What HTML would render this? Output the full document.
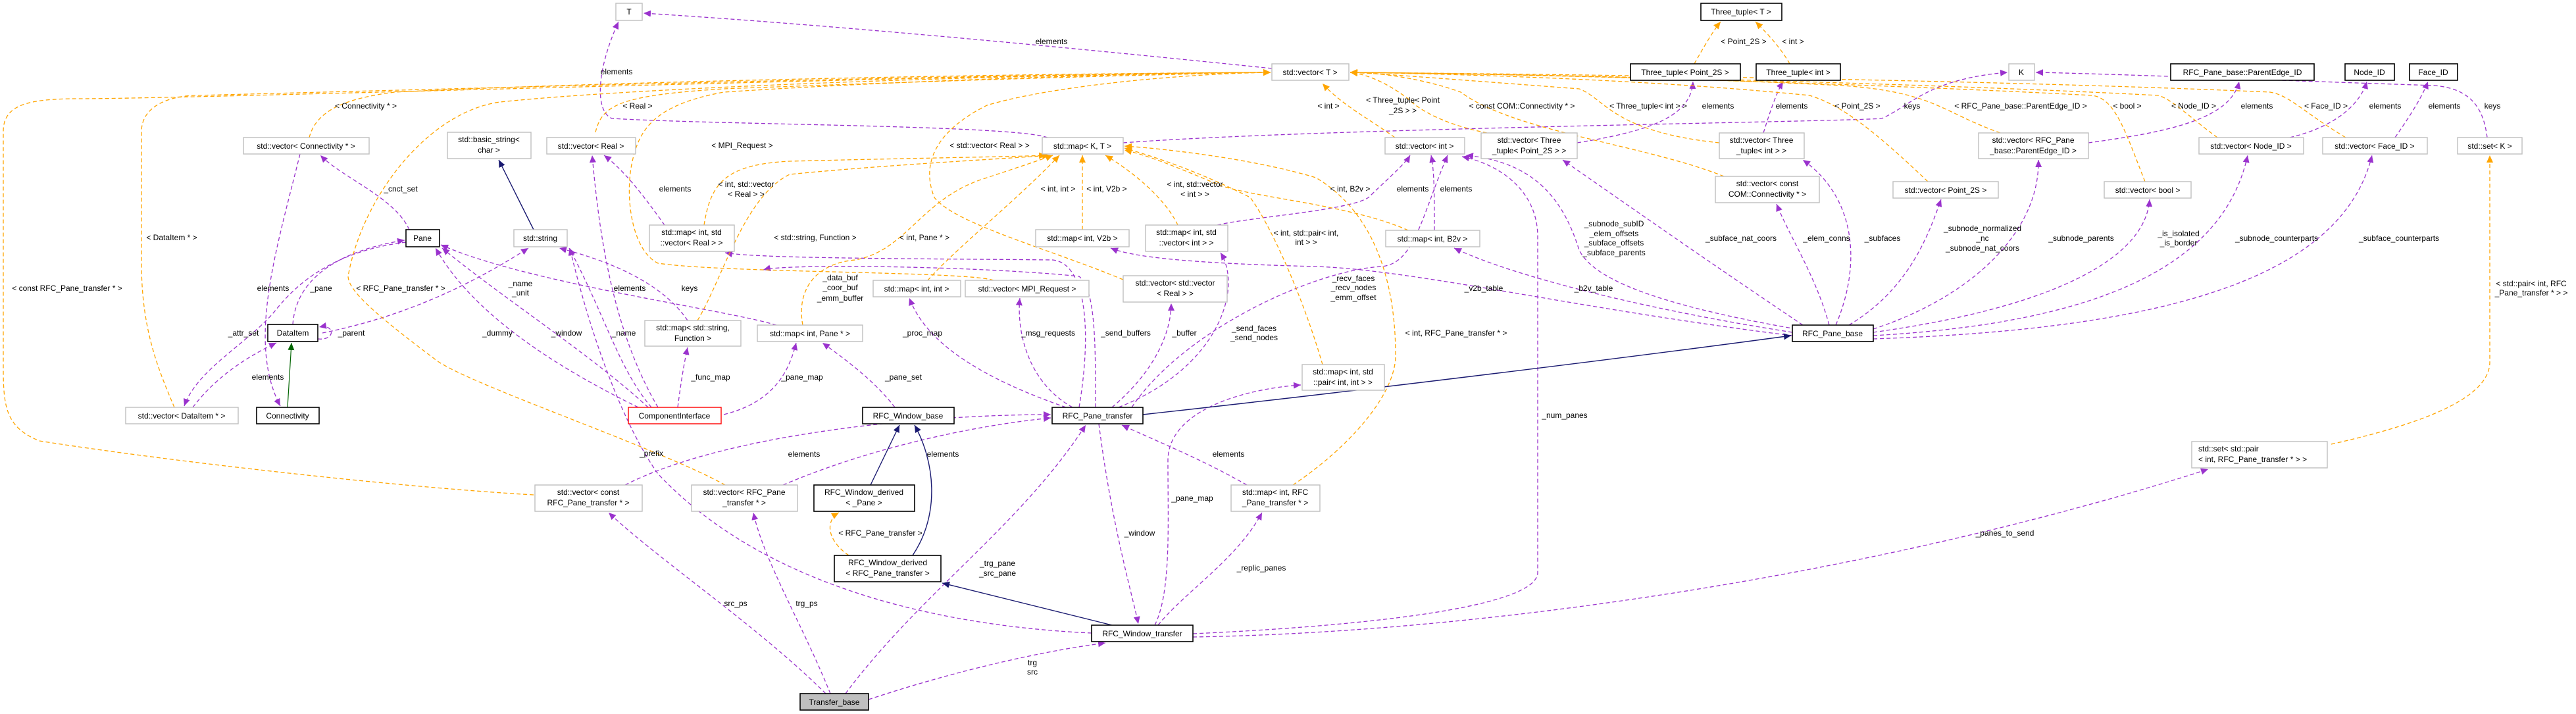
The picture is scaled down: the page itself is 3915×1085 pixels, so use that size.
<!DOCTYPE html>
<html><head><meta charset="utf-8">
<style>
html,body{margin:0;padding:0;background:#fff;}
svg{display:block;}
text{font-family:"Liberation Sans",sans-serif;font-size:12px;fill:#000;}
.p{fill:none;stroke:#9a32cd;stroke-width:1.3;stroke-dasharray:6,4;marker-end:url(#ap);}
.o{fill:none;stroke:#ffa500;stroke-width:1.3;stroke-dasharray:6,4;marker-end:url(#ao);}
.n{fill:none;stroke:#191970;stroke-width:1.4;marker-end:url(#an);}
.g{fill:none;stroke:#006400;stroke-width:1.2;marker-end:url(#ag);}
.bg{fill:#fff;stroke:#bfbfbf;stroke-width:1.4;}
.bk{fill:#fff;stroke:#000;stroke-width:1.6;}
.rd{fill:#fff;stroke:#ff0000;stroke-width:1.4;}
.tb{fill:#bfbfbf;stroke:#000;stroke-width:1.6;}
</style></head><body>
<svg width="3915" height="1085" viewBox="0 0 3915 1085" xmlns="http://www.w3.org/2000/svg">
<defs>
<marker id="ap" markerUnits="userSpaceOnUse" markerWidth="12" markerHeight="10" refX="11" refY="5" orient="auto"><path d="M0,0 L11,5 L0,10 z" fill="#9a32cd"/></marker>
<marker id="ao" markerUnits="userSpaceOnUse" markerWidth="12" markerHeight="10" refX="11" refY="5" orient="auto"><path d="M0,0 L11,5 L0,10 z" fill="#ffa500"/></marker>
<marker id="an" markerUnits="userSpaceOnUse" markerWidth="12" markerHeight="10" refX="11" refY="5" orient="auto"><path d="M0,0 L11,5 L0,10 z" fill="#191970"/></marker>
<marker id="ag" markerUnits="userSpaceOnUse" markerWidth="12" markerHeight="10" refX="11" refY="5" orient="auto"><path d="M0,0 L11,5 L0,10 z" fill="#006400"/></marker>
</defs>

<!-- purple edges -->
<path class="p" d="M1933,104 C1700,80 1300,40 978,20"/>
<path class="p" d="M1592,209 C1540,190 1100,190 930,180 C905,170 905,110 940,33"/>
<path class="p" d="M1707,217 C2000,195 2800,185 2860,180 C2905,160 2930,120 3051,110"/>
<path class="p" d="M3780,209 C3775,170 3760,135 3700,130 C3400,120 3200,112 3094,110"/>
<path class="p" d="M622,349 C600,300 520,270 487,236"/>
<path class="p" d="M456,234 C420,380 375,520 426,617"/>
<path class="p" d="M445,493 C450,420 520,380 615,365"/>
<path class="p" d="M617,368 C520,380 460,420 420,470 C380,520 300,560 280,617"/>
<path class="p" d="M293,619 C330,570 380,540 420,521"/>
<path class="p" d="M483,515 C510,518 510,492 485,497"/>
<path class="p" d="M490,506 C620,480 720,430 803,377"/>
<path class="p" d="M970,619 C850,560 720,480 662,377"/>
<path class="p" d="M985,619 C900,540 760,450 672,377"/>
<path class="p" d="M1180,494 C1100,470 800,430 670,372"/>
<path class="p" d="M1045,487 C1000,420 900,390 850,377"/>
<path class="p" d="M990,619 C940,560 920,480 865,377"/>
<path class="p" d="M1010,342 C980,300 950,260 918,236"/>
<path class="p" d="M1000,619 C930,500 910,350 900,236"/>
<path class="p" d="M1030,619 C1035,580 1040,550 1045,528"/>
<path class="p" d="M1100,630 C1180,610 1200,560 1210,521"/>
<path class="p" d="M1360,619 C1330,580 1290,550 1250,521"/>
<path class="p" d="M1640,619 C1660,500 1650,400 1600,395 C1400,393 1150,393 1102,384"/>
<path class="p" d="M1665,619 C1665,520 1665,440 1640,420 C1500,405 1200,400 1160,410"/>
<path class="p" d="M1620,619 C1450,560 1400,500 1382,453"/>
<path class="p" d="M1630,619 C1560,580 1545,500 1550,453"/>
<path class="p" d="M1690,619 C1760,560 1780,500 1780,461"/>
<path class="p" d="M1700,619 C1850,560 1890,440 1855,384"/>
<path class="p" d="M2724,510 C2400,470 2150,410 2000,405 C1800,400 1720,390 1688,377"/>
<path class="p" d="M2724,505 C2500,470 2300,420 2210,377"/>
<path class="p" d="M2180,350 C2180,300 2180,260 2175,236"/>
<path class="p" d="M1850,342 C1900,330 2050,320 2080,300 C2100,280 2135,250 2143,236"/>
<path class="p" d="M1720,619 C1800,500 2000,410 2100,405 C2150,400 2160,330 2200,236"/>
<path class="p" d="M2730,500 C2500,460 2420,420 2400,380 C2375,300 2330,246 2228,236"/>
<path class="p" d="M2740,494 C2600,400 2500,330 2375,243"/>
<path class="p" d="M2780,494 C2760,420 2720,360 2700,310"/>
<path class="p" d="M2790,494 C2830,400 2820,300 2740,243"/>
<path class="p" d="M2810,494 C2900,440 2930,360 2950,303"/>
<path class="p" d="M2847,500 C3000,450 3100,350 3098,243"/>
<path class="p" d="M2847,505 C3100,470 3260,400 3267,303"/>
<path class="p" d="M2847,510 C3200,490 3380,400 3416,236"/>
<path class="p" d="M2847,515 C3300,500 3560,420 3605,236"/>
<path class="p" d="M2397,217 C2500,200 2570,180 2573,124"/>
<path class="p" d="M2680,202 C2690,170 2700,140 2710,124"/>
<path class="p" d="M3174,217 C3300,200 3390,180 3403,124"/>
<path class="p" d="M3480,209 C3560,190 3590,150 3597,124"/>
<path class="p" d="M3640,209 C3660,180 3680,150 3690,124"/>
<path class="p" d="M950,737 C1100,660 1400,630 1597,630"/>
<path class="p" d="M1190,737 C1300,690 1450,650 1597,635"/>
<path class="p" d="M1895,737 C1830,700 1780,680 1705,646"/>
<path class="p" d="M1285,1054 C1400,900 1550,800 1650,646"/>
<path class="p" d="M1670,644 C1690,800 1720,900 1730,948"/>
<path class="p" d="M1760,950 C1800,900 1880,850 1918,779"/>
<path class="p" d="M1755,950 C1780,900 1775,800 1775,700 C1775,620 1900,590 1977,585"/>
<path class="p" d="M1813,963 C2100,950 2337,920 2337,870 L2337,360 C2337,290 2280,250 2222,238"/>
<path class="p" d="M1813,968 C2300,960 2900,860 3356,713"/>
<path class="p" d="M1255,1054 C1150,950 1000,850 925,779"/>
<path class="p" d="M1262,1054 C1220,950 1160,850 1145,779"/>
<path class="p" d="M1320,1063 C1450,1020 1580,990 1680,977"/>
<path class="p" d="M1659,962 C1400,950 1150,880 1000,720 C950,650 900,520 866,377"/>

<!-- orange edges -->
<path class="o" d="M811,752 C600,740 250,700 60,670 C10,650 5,620 5,560 L5,200 C5,160 40,150 120,150 C300,150 1500,112 1931,110"/>
<path class="o" d="M265,619 C240,560 215,500 215,400 L215,200 C215,160 260,145 300,145 C500,140 1500,112 1931,110"/>
<path class="o" d="M470,209 C480,170 520,150 600,140 C900,125 1500,112 1931,110"/>
<path class="o" d="M905,201 C915,160 940,145 1100,135 C1500,120 1800,112 1931,110"/>
<path class="o" d="M1102,737 C1000,680 700,580 660,545 C560,470 530,440 529,420 C550,300 650,170 760,155 C1000,130 1600,112 1931,110"/>
<path class="o" d="M1510,426 C1470,412 1100,415 1000,400 C960,380 950,300 960,250 C970,200 990,160 1100,140 C1400,120 1800,110 1931,110"/>
<path class="o" d="M1707,425 C1600,380 1450,340 1420,300 C1400,250 1420,200 1500,160 C1600,130 1800,112 1931,110"/>
<path class="o" d="M2120,209 C2080,180 2040,160 2010,127"/>
<path class="o" d="M2260,202 C2200,190 2160,170 2140,150 C2100,120 2070,112 2052,110"/>
<path class="o" d="M2620,268 C2500,220 2300,200 2220,140 C2150,115 2080,110 2052,110"/>
<path class="o" d="M2613,217 C2450,200 2440,150 2400,135 C2200,120 2100,112 2052,110"/>
<path class="o" d="M2930,276 C2850,200 2800,160 2750,145 C2500,120 2200,112 2052,110"/>
<path class="o" d="M3040,202 C2950,170 2940,140 2800,130 C2500,115 2200,112 2052,110"/>
<path class="o" d="M3260,276 C3230,200 3215,150 3180,145 C2800,125 2300,112 2052,110"/>
<path class="o" d="M3370,209 C3330,180 3300,150 3280,145 C2900,125 2300,112 2052,110"/>
<path class="o" d="M3565,209 C3500,170 3480,145 3450,140 C3000,120 2300,112 2052,110"/>
<path class="o" d="M1070,342 C1080,280 1100,250 1200,245 C1400,240 1550,238 1590,236"/>
<path class="o" d="M1060,487 C1100,420 1130,300 1200,265 C1350,250 1550,240 1595,236"/>
<path class="o" d="M1220,494 C1210,440 1240,400 1300,395 C1380,380 1400,300 1500,270 C1560,250 1590,240 1600,236"/>
<path class="o" d="M1410,426 C1450,380 1550,300 1610,236"/>
<path class="o" d="M1645,349 L1645,236"/>
<path class="o" d="M1790,342 C1770,300 1720,260 1680,236"/>
<path class="o" d="M2010,554 C1980,450 1930,340 1900,300 C1820,260 1760,240 1709,225"/>
<path class="o" d="M2140,350 C2050,310 1900,300 1850,280 C1780,250 1740,235 1709,228"/>
<path class="o" d="M1965,737 C2050,680 2121,600 2121,540 C2121,450 2100,330 2000,270 C1900,240 1760,225 1709,222"/>
<path class="o" d="M2575,97 C2590,70 2605,45 2615,33"/>
<path class="o" d="M2720,97 C2705,70 2680,45 2668,33"/>
<path class="o" d="M3543,675 C3700,640 3784,600 3784,550 L3784,236"/>
<path class="o" d="M1290,844 C1255,820 1255,790 1275,779"/>

<!-- navy / green -->
<path class="n" d="M811,349 L758,243"/>
<path class="n" d="M1323,737 L1367,646"/>
<path class="n" d="M1387,844 C1430,780 1420,700 1390,646"/>
<path class="n" d="M1690,950 L1432,886"/>
<path class="n" d="M1737,630 C2100,590 2500,540 2722,510"/>
<path class="g" d="M437,619 L443,521"/>

<!-- nodes -->
<g>
<rect class="bg" x="936" y="5" width="40" height="26"/><text x="956" y="22" text-anchor="middle">T</text>
<rect class="bg" x="370" y="209" width="191" height="25"/><text x="465" y="226" text-anchor="middle">std::vector&lt; Connectivity * &gt;</text>
<rect class="bg" x="680" y="201" width="127" height="40"/><text x="743" y="216" text-anchor="middle">std::basic_string&lt;</text><text x="743" y="232" text-anchor="middle">char &gt;</text>
<rect class="bg" x="831" y="209" width="135" height="25"/><text x="898" y="226" text-anchor="middle">std::vector&lt; Real &gt;</text>
<rect class="bk" x="617" y="349" width="51" height="26"/><text x="642" y="366" text-anchor="middle">Pane</text>
<rect class="bg" x="781" y="349" width="81" height="26"/><text x="821" y="366" text-anchor="middle">std::string</text>
<rect class="bk" x="407" y="493" width="76" height="26"/><text x="445" y="510" text-anchor="middle">DataItem</text>
<rect class="bg" x="191" y="619" width="171" height="25"/><text x="276" y="636" text-anchor="middle">std::vector&lt; DataItem * &gt;</text>
<rect class="bk" x="390" y="619" width="95" height="25"/><text x="437" y="636" text-anchor="middle">Connectivity</text>
<rect class="rd" x="955" y="619" width="141" height="25"/><text x="1025" y="636" text-anchor="middle">ComponentInterface</text>
<rect class="bg" x="813" y="737" width="163" height="40"/><text x="894" y="752" text-anchor="middle">std::vector&lt; const</text><text x="894" y="768" text-anchor="middle">RFC_Pane_transfer * &gt;</text>
<rect class="bg" x="1933" y="97" width="117" height="25"/><text x="1991" y="114" text-anchor="middle">std::vector&lt; T &gt;</text>
<rect class="bg" x="1584" y="209" width="123" height="25"/><text x="1645" y="226" text-anchor="middle">std::map&lt; K, T &gt;</text>
<rect class="bg" x="987" y="342" width="129" height="40"/><text x="1051" y="357" text-anchor="middle">std::map&lt; int, std</text><text x="1051" y="373" text-anchor="middle">::vector&lt; Real &gt; &gt;</text>
<rect class="bg" x="1574" y="349" width="142" height="26"/><text x="1645" y="366" text-anchor="middle">std::map&lt; int, V2b &gt;</text>
<rect class="bg" x="1741" y="342" width="125" height="40"/><text x="1803" y="357" text-anchor="middle">std::map&lt; int, std</text><text x="1803" y="373" text-anchor="middle">::vector&lt; int &gt; &gt;</text>
<rect class="bg" x="980" y="487" width="146" height="39"/><text x="1053" y="502" text-anchor="middle">std::map&lt; std::string,</text><text x="1053" y="518" text-anchor="middle">Function &gt;</text>
<rect class="bg" x="1151" y="494" width="160" height="25"/><text x="1231" y="511" text-anchor="middle">std::map&lt; int, Pane * &gt;</text>
<rect class="bg" x="1327" y="426" width="133" height="25"/><text x="1393" y="443" text-anchor="middle">std::map&lt; int, int &gt;</text>
<rect class="bg" x="1467" y="426" width="188" height="25"/><text x="1561" y="443" text-anchor="middle">std::vector&lt; MPI_Request &gt;</text>
<rect class="bg" x="1707" y="419" width="158" height="40"/><text x="1786" y="434" text-anchor="middle">std::vector&lt; std::vector</text><text x="1786" y="450" text-anchor="middle">&lt; Real &gt; &gt;</text>
<rect class="bk" x="1311" y="619" width="139" height="25"/><text x="1380" y="636" text-anchor="middle">RFC_Window_base</text>
<rect class="bk" x="1599" y="619" width="138" height="25"/><text x="1668" y="636" text-anchor="middle">RFC_Pane_transfer</text>
<rect class="bg" x="1051" y="737" width="161" height="40"/><text x="1131" y="752" text-anchor="middle">std::vector&lt; RFC_Pane</text><text x="1131" y="768" text-anchor="middle">_transfer * &gt;</text>
<rect class="bk" x="1237" y="737" width="153" height="40"/><text x="1313" y="752" text-anchor="middle">RFC_Window_derived</text><text x="1313" y="768" text-anchor="middle">&lt; _Pane &gt;</text>
<rect class="bk" x="1268" y="844" width="162" height="40"/><text x="1349" y="859" text-anchor="middle">RFC_Window_derived</text><text x="1349" y="875" text-anchor="middle">&lt; RFC_Pane_transfer &gt;</text>
<rect class="bk" x="1659" y="950" width="154" height="25"/><text x="1736" y="967" text-anchor="middle">RFC_Window_transfer</text>
<rect class="tb" x="1216" y="1054" width="104" height="25"/><text x="1268" y="1071" text-anchor="middle">Transfer_base</text>
<rect class="bg" x="1871" y="737" width="135" height="40"/><text x="1938" y="752" text-anchor="middle">std::map&lt; int, RFC</text><text x="1938" y="768" text-anchor="middle">_Pane_transfer * &gt;</text>
<rect class="bg" x="1979" y="554" width="125" height="39"/><text x="2041" y="569" text-anchor="middle">std::map&lt; int, std</text><text x="2041" y="585" text-anchor="middle">::pair&lt; int, int &gt; &gt;</text>
<rect class="bk" x="2585" y="5" width="123" height="26"/><text x="2646" y="22" text-anchor="middle">Three_tuple&lt; T &gt;</text>
<rect class="bk" x="2478" y="97" width="167" height="25"/><text x="2561" y="114" text-anchor="middle">Three_tuple&lt; Point_2S &gt;</text>
<rect class="bk" x="2669" y="97" width="128" height="25"/><text x="2733" y="114" text-anchor="middle">Three_tuple&lt; int &gt;</text>
<rect class="bg" x="2105" y="209" width="121" height="25"/><text x="2165" y="226" text-anchor="middle">std::vector&lt; int &gt;</text>
<rect class="bg" x="2251" y="202" width="146" height="39"/><text x="2324" y="217" text-anchor="middle">std::vector&lt; Three</text><text x="2324" y="233" text-anchor="middle">_tuple&lt; Point_2S &gt; &gt;</text>
<rect class="bg" x="2613" y="202" width="129" height="39"/><text x="2677" y="217" text-anchor="middle">std::vector&lt; Three</text><text x="2677" y="233" text-anchor="middle">_tuple&lt; int &gt; &gt;</text>
<rect class="bg" x="2607" y="268" width="158" height="40"/><text x="2686" y="283" text-anchor="middle">std::vector&lt; const</text><text x="2686" y="299" text-anchor="middle">COM::Connectivity * &gt;</text>
<rect class="bg" x="2877" y="276" width="160" height="25"/><text x="2957" y="293" text-anchor="middle">std::vector&lt; Point_2S &gt;</text>
<rect class="bg" x="2106" y="350" width="143" height="25"/><text x="2177" y="367" text-anchor="middle">std::map&lt; int, B2v &gt;</text>
<rect class="bk" x="2724" y="494" width="123" height="25"/><text x="2785" y="511" text-anchor="middle">RFC_Pane_base</text>
<rect class="bg" x="3053" y="97" width="39" height="25"/><text x="3072" y="114" text-anchor="middle">K</text>
<rect class="bk" x="3299" y="97" width="218" height="25"/><text x="3408" y="114" text-anchor="middle">RFC_Pane_base::ParentEdge_ID</text>
<rect class="bk" x="3564" y="97" width="75" height="25"/><text x="3601" y="114" text-anchor="middle">Node_ID</text>
<rect class="bk" x="3662" y="97" width="73" height="25"/><text x="3698" y="114" text-anchor="middle">Face_ID</text>
<rect class="bg" x="3007" y="202" width="167" height="39"/><text x="3090" y="217" text-anchor="middle">std::vector&lt; RFC_Pane</text><text x="3090" y="233" text-anchor="middle">_base::ParentEdge_ID &gt;</text>
<rect class="bg" x="3342" y="209" width="159" height="25"/><text x="3421" y="226" text-anchor="middle">std::vector&lt; Node_ID &gt;</text>
<rect class="bg" x="3530" y="209" width="159" height="25"/><text x="3609" y="226" text-anchor="middle">std::vector&lt; Face_ID &gt;</text>
<rect class="bg" x="3735" y="209" width="98" height="25"/><text x="3784" y="226" text-anchor="middle">std::set&lt; K &gt;</text>
<rect class="bg" x="3198" y="276" width="132" height="25"/><text x="3264" y="293" text-anchor="middle">std::vector&lt; bool &gt;</text>
<rect class="bg" x="3331" y="671" width="206" height="40"/><text x="3341" y="686">std::set&lt; std::pair</text><text x="3341" y="702">&lt; int, RFC_Pane_transfer * &gt; &gt;</text>
</g>

<!-- edge labels -->
<g text-anchor="middle">
<text x="937" y="113">elements</text>
<text x="556" y="165">&lt; Connectivity * &gt;</text>
<text x="969" y="165">&lt; Real &gt;</text>
<text x="609" y="291">_cnct_set</text>
<text x="261" y="365">&lt; DataItem * &gt;</text>
<text x="102" y="442">&lt; const RFC_Pane_transfer * &gt;</text>
<text x="415" y="442">elements</text>
<text x="488" y="442">_pane</text>
<text x="609" y="442">&lt; RFC_Pane_transfer * &gt;</text>
<text x="791" y="435">_name</text><text x="791" y="449">_unit</text>
<text x="957" y="442">elements</text>
<text x="370" y="510">_attr_set</text>
<text x="534" y="510">_parent</text>
<text x="756" y="510">_dummy</text>
<text x="861" y="510">_window</text>
<text x="948" y="510">_name</text>
<text x="407" y="577">elements</text>
<text x="990" y="693">_prefix</text>
<text x="1598" y="67">elements</text>
<text x="1128" y="225">&lt; MPI_Request &gt;</text>
<text x="1504" y="225">&lt; std::vector&lt; Real &gt; &gt;</text>
<text x="1134" y="284">&lt; int, std::vector</text><text x="1134" y="299">&lt; Real &gt; &gt;</text>
<text x="1026" y="291">elements</text>
<text x="1608" y="291">&lt; int, int &gt;</text>
<text x="1682" y="291">&lt; int, V2b &gt;</text>
<text x="1816" y="284">&lt; int, std::vector</text><text x="1816" y="299">&lt; int &gt; &gt;</text>
<text x="1239" y="365">&lt; std::string, Function &gt;</text>
<text x="1405" y="365">&lt; int, Pane * &gt;</text>
<text x="1985" y="358">&lt; int, std::pair&lt; int,</text><text x="1985" y="372">int &gt; &gt;</text>
<text x="1048" y="442">keys</text>
<text x="1277" y="426">_data_buf</text><text x="1277" y="441">_coor_buf</text><text x="1277" y="457">_emm_buffer</text>
<text x="1402" y="510">_proc_map</text>
<text x="1593" y="510">_msg_requests</text>
<text x="1711" y="510">_send_buffers</text>
<text x="1800" y="510">_buffer</text>
<text x="1906" y="503">_send_faces</text><text x="1906" y="517">_send_nodes</text>
<text x="1080" y="577">_func_map</text>
<text x="1219" y="577">_pane_map</text>
<text x="1373" y="577">_pane_set</text>
<text x="1222" y="694">elements</text>
<text x="1433" y="694">elements</text>
<text x="1867" y="694">elements</text>
<text x="1812" y="761">_pane_map</text>
<text x="1338" y="814">&lt; RFC_Pane_transfer &gt;</text>
<text x="1732" y="814">_window</text>
<text x="1516" y="860">_trg_pane</text><text x="1516" y="875">_src_pane</text>
<text x="1917" y="867">_replic_panes</text>
<text x="1118" y="921">src_ps</text>
<text x="1226" y="921">trg_ps</text>
<text x="1569" y="1011">trg</text><text x="1569" y="1025">src</text>
<text x="2378" y="635">_num_panes</text>
<text x="3047" y="814">_panes_to_send</text>
<text x="2650" y="67">&lt; Point_2S &gt;</text>
<text x="2725" y="67">&lt; int &gt;</text>
<text x="2019" y="165">&lt; int &gt;</text>
<text x="2132" y="156">&lt; Three_tuple&lt; Point</text><text x="2132" y="172">_2S &gt; &gt;</text>
<text x="2313" y="165">&lt; const COM::Connectivity * &gt;</text>
<text x="2505" y="165">&lt; Three_tuple&lt; int &gt; &gt;</text>
<text x="2611" y="165">elements</text>
<text x="2723" y="165">elements</text>
<text x="2823" y="165">&lt; Point_2S &gt;</text>
<text x="2906" y="165">keys</text>
<text x="3071" y="165">&lt; RFC_Pane_base::ParentEdge_ID &gt;</text>
<text x="3233" y="165">&lt; bool &gt;</text>
<text x="3334" y="165">&lt; Node_ID &gt;</text>
<text x="3430" y="165">elements</text>
<text x="3535" y="165">&lt; Face_ID &gt;</text>
<text x="3625" y="165">elements</text>
<text x="3715" y="165">elements</text>
<text x="3788" y="165">keys</text>
<text x="2052" y="291">&lt; int, B2v &gt;</text>
<text x="2147" y="291">elements</text>
<text x="2213" y="291">elements</text>
<text x="2453" y="344">_subnode_subID</text><text x="2453" y="359">_elem_offsets</text><text x="2453" y="373">_subface_offsets</text><text x="2453" y="388">_subface_parents</text>
<text x="2646" y="366">_subface_nat_coors</text>
<text x="2776" y="366">_elem_conns</text>
<text x="2861" y="366">_subfaces</text>
<text x="2057" y="427">_recv_faces</text><text x="2057" y="441">_recv_nodes</text><text x="2057" y="456">_emm_offset</text>
<text x="2255" y="442">_v2b_table</text>
<text x="2422" y="442">_b2v_table</text>
<text x="2213" y="510">&lt; int, RFC_Pane_transfer * &gt;</text>
<text x="3013" y="351">_subnode_normalized</text><text x="3013" y="366">_nc</text><text x="3013" y="381">_subnode_nat_coors</text>
<text x="3163" y="366">_subnode_parents</text>
<text x="3311" y="359">_is_isolated</text><text x="3311" y="373">_is_border</text>
<text x="3460" y="366">_subnode_counterparts</text>
<text x="3646" y="366">_subface_counterparts</text>
<text x="3847" y="435">&lt; std::pair&lt; int, RFC</text><text x="3847" y="449">_Pane_transfer * &gt; &gt;</text>
</g>
</svg>
</body></html>
